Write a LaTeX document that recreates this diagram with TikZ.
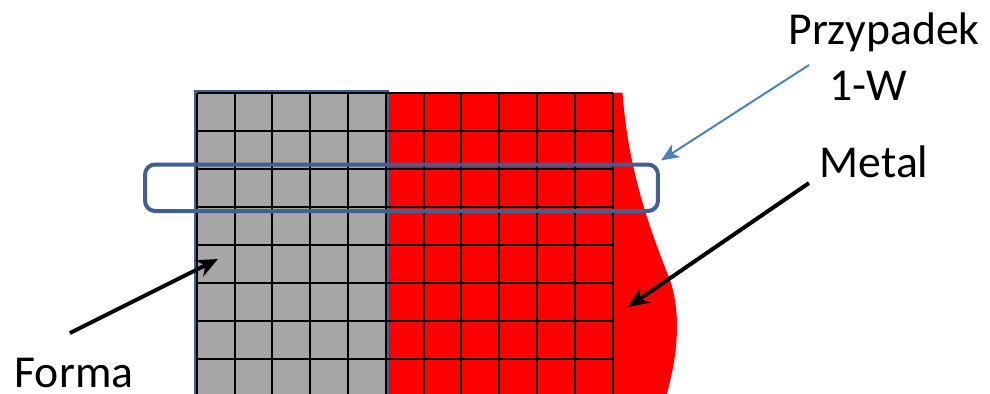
\documentclass[tikz,border=0pt]{standalone}
\usepackage{fontspec}
\setmainfont{Carlito}
\usetikzlibrary{arrows.meta}
\definecolor{metalred}{HTML}{FF0000}
\definecolor{formgray}{HTML}{A6A6A6}
\definecolor{boxblue}{HTML}{3F6090}
\definecolor{ptrblue}{HTML}{4F81BD}

\begin{document}
\begin{tikzpicture}[
  x=0.02cm, y=-0.02cm,
  font=\fontsize{26}{31}\selectfont,
  lbl/.style={inner sep=0pt, anchor=base},
  cell/.style={draw=black, line width=0.04cm},
  casebox/.style={draw=boxblue, line width=0.08cm, rounded corners=0.2cm, inner sep=0pt,
    minimum width=10.26cm, minimum height=0.93cm},
  ptr/.style={-{Stealth[length=0.42cm, width=0.36cm]}, line width=0.08cm},
  caseptr/.style={-{Stealth[length=0.36cm, width=0.3cm, inset=0.1cm]}, draw=ptrblue, line width=0.04cm}
]
\useasboundingbox (0,0) rectangle (990,393);

\begin{scope}
  \clip (0,0) rectangle (990,393);
  % Metal
  \fill[metalred] (386,92.5) -- (622.5,92.5)
    .. controls (628,170) and (650,230) .. (670,280)
    .. controls (680,310) and (680,350) .. (665,400) -- (386,400) -- cycle;
  % Forma
  \filldraw[fill=formgray, draw=boxblue, line width=0.04cm] (195,91) rectangle (387.5,400);
  % grid of cells
  \foreach \i in {0,...,11}
    \draw[cell] (196.7+37.8*\i,92.5) -- (196.7+37.8*\i,400);
  \foreach \j in {0,...,7}
    \draw[cell] (196.7,92.5+38*\j) -- (612.5,92.5+38*\j);
\end{scope}

% Przypadek 1-W
\node[casebox] (casebox) at (401.5,187.75) {};

% Labels
\node[lbl] (przyp) at (884,44) {Przypadek};
\node[lbl] (przyp1w) at (868,100) {1-W};
\node[lbl] (metal) at (874,177) {Metal};
\node[lbl] (forma) at (74,387) {Forma};

% Pointers
\coordinate (caseTail) at (809,65);
\coordinate (metalTail) at (809,183);
\coordinate (metalTip) at (628,307);
\coordinate (formaTail) at (70,333);
\coordinate (formaTip) at (218,259);
\draw[caseptr] (caseTail) -- ([shift={(1,-2)}]casebox.north east);
\draw[ptr] (metalTail) -- (metalTip);
\draw[ptr] (formaTail) -- (formaTip);

\end{tikzpicture}
\end{document}
